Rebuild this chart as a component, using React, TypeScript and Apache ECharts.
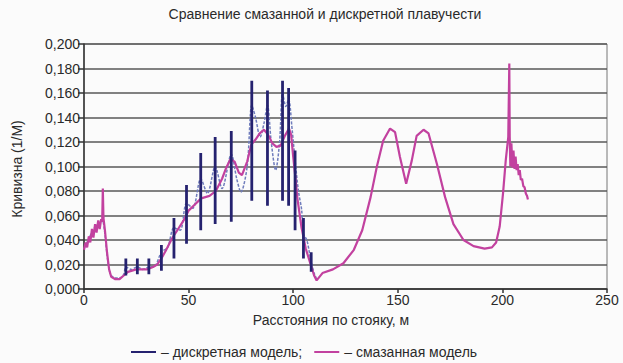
import React, { useEffect, useRef } from "react";
import * as echarts from "echarts";

const titleText = "Сравнение смазанной и дискретной плавучести";
const xAxisName = "Расстояния по стояку, м";
const yAxisName = "Кривизна (1/М)";
const discreteName = "– дискретная модель;";
const smearedName = "– смазанная модель";

const xTicks = { min: 0, max: 250, interval: 50 };
const yTicks = { min: 0, max: 0.2, interval: 0.02 };

// Smeared model (pink)
const smearedX = [
  0, 0.8, 1.5, 2.3, 3.0, 3.8, 4.5, 5.3, 6.0, 6.8, 7.5, 8.2, 8.7, 9.0, 9.3, 10, 11, 12, 13, 15, 17, 19, 21, 25, 30, 33,
  35, 37, 39, 42, 45, 48, 50, 53, 56, 60, 63, 66, 68, 70, 72, 74, 75.5, 78, 80, 82, 84, 86, 88, 90, 92, 94, 96, 98, 99,
  100, 101, 102, 104, 106, 108, 110, 111.2, 114, 119, 124, 129, 133, 137, 140, 143, 146.3, 148.7, 151, 154, 156.7,
  159, 162.3, 164.7, 168.7, 172.6, 176.6, 181.4, 186.2, 191.5, 195, 197, 198.7, 200.3, 201.6, 202.8, 203.3, 203.5,
  203.8, 204.3, 204.8, 205.3, 205.8, 206.3, 206.8, 207.3, 207.8, 208.3, 208.8, 209.4, 210.0, 210.6, 211.2, 211.8, 212.2,
];
const smearedY = [
  0.032, 0.038, 0.034, 0.043, 0.038, 0.049, 0.042, 0.053, 0.046, 0.056, 0.049, 0.057, 0.055, 0.082, 0.058, 0.048, 0.03,
  0.016, 0.01, 0.008, 0.008, 0.011, 0.014, 0.016, 0.016, 0.018, 0.02, 0.025, 0.031, 0.041, 0.049, 0.057, 0.064, 0.069,
  0.074, 0.076, 0.08, 0.09, 0.099, 0.106, 0.104, 0.095, 0.093, 0.104, 0.118, 0.122, 0.127, 0.13, 0.126, 0.119, 0.116,
  0.117, 0.125, 0.131, 0.126, 0.108, 0.092, 0.074, 0.05, 0.033, 0.022, 0.011, 0.007, 0.013, 0.016, 0.021, 0.032, 0.048,
  0.075, 0.1, 0.121, 0.131, 0.128, 0.108, 0.086, 0.105, 0.125, 0.13, 0.127, 0.102, 0.075, 0.053, 0.04, 0.035, 0.033,
  0.034, 0.038, 0.051, 0.078, 0.105, 0.124, 0.184, 0.124, 0.1, 0.119, 0.099, 0.113, 0.098, 0.108, 0.097, 0.102, 0.093,
  0.097, 0.089, 0.09, 0.084, 0.083, 0.078, 0.076, 0.073,
];

// Discrete model: smooth curve between modules (light)
const discreteCurveX = [
  0, 2, 4, 6, 8, 8.8, 10, 11, 12, 13, 15, 17, 19, 20, 22.5, 25.5, 28, 31, 34, 37, 40, 43, 46, 49, 52, 55.8, 59, 62.7,
  66, 70.4, 73, 75, 78, 80.2, 82, 84.2, 86, 87.7, 89.5, 91.6, 93.5, 94.9, 96.5, 97.8, 99.5, 100.9, 102.5, 104, 104.9,
  106.5, 107.5, 108.6, 110, 111,
];
const discreteCurveY = [
  0.033, 0.04, 0.047, 0.052, 0.055, 0.056, 0.045, 0.028, 0.016, 0.011, 0.009, 0.009, 0.012, 0.018, 0.016, 0.018, 0.016,
  0.018, 0.019, 0.03, 0.034, 0.05, 0.048, 0.07, 0.066, 0.09, 0.078, 0.1, 0.082, 0.11, 0.09, 0.079, 0.1, 0.15, 0.14,
  0.124, 0.135, 0.15, 0.12, 0.097, 0.12, 0.16, 0.149, 0.155, 0.13, 0.105, 0.08, 0.065, 0.045, 0.04, 0.032, 0.022, 0.013,
  0.009,
];

// Discrete model: spikes at buoyancy modules
const spikeX = [20, 25.5, 31, 37, 43, 49, 55.8, 62.7, 70.4, 80.2, 87.7, 94.9, 97.8, 100.9, 104.9, 108.6];
const spikeTop = [0.025, 0.025, 0.025, 0.036, 0.058, 0.085, 0.111, 0.124, 0.129, 0.17, 0.162, 0.17, 0.164, 0.113, 0.058, 0.03];
const spikeBottom = [0.011, 0.012, 0.012, 0.015, 0.025, 0.037, 0.048, 0.053, 0.055, 0.072, 0.068, 0.072, 0.068, 0.048, 0.025, 0.014];

const PINK = "#c2419f";
const NAVY = "#25226f";
const LIGHT = "#6f7cbc";

const fmt = (v: number) => v.toFixed(3).replace(".", ",");

export default function App() {
  const ref = useRef<HTMLDivElement>(null);
  useEffect(() => {
    if (!ref.current) return;
    const chart = echarts.init(ref.current, undefined, { renderer: "svg" });
    const smeared = smearedX.map((x, i) => [x, smearedY[i]]);
    const curve = discreteCurveX.map((x, i) => [x, discreteCurveY[i]]);
    const spikes: any[] = [];
    spikeX.forEach((x, i) => {
      spikes.push([x, spikeTop[i]]);
      spikes.push([x, spikeBottom[i]]);
      spikes.push([x, "-"]);
    });
    const font = "Liberation Sans, Arial, sans-serif";
    chart.setOption({
      animation: false,
      backgroundColor: "#fbfbfb",
      textStyle: { fontFamily: font },
      grid: {
        left: 84,
        right: 16,
        top: 44,
        bottom: 74,
        show: true,
        borderColor: "#777",
        borderWidth: 1,
        backgroundColor: "transparent",
      },
      xAxis: {
        type: "value",
        min: xTicks.min,
        max: xTicks.max,
        interval: xTicks.interval,
        axisLine: { show: true, onZero: false, lineStyle: { color: "#333", width: 1.5 } },
        axisTick: { show: true, length: 4, lineStyle: { color: "#333", width: 1.5 } },
        splitLine: { show: false },
        axisLabel: { color: "#2a2a2a", fontSize: 14, fontFamily: font, margin: 4 },
      },
      yAxis: {
        type: "value",
        min: yTicks.min,
        max: yTicks.max,
        interval: yTicks.interval,
        axisLine: { show: true, lineStyle: { color: "#333", width: 1.5 } },
        axisTick: { show: true, length: 6, lineStyle: { color: "#333", width: 1.5 } },
        splitLine: { show: true, lineStyle: { color: "#585858", width: 1.6 } },
        axisLabel: { color: "#2a2a2a", fontSize: 14, fontFamily: font, margin: 4, formatter: fmt },
      },
      legend: {
        left: 126,
        top: 340,
        itemWidth: 25,
        itemHeight: 2,
        itemGap: 12,
        icon: "rect",
        textStyle: { color: "#2a2a2a", fontSize: 14, fontFamily: font },
        data: [
          { name: discreteName, itemStyle: { color: NAVY } },
          { name: smearedName, itemStyle: { color: PINK } },
        ],
      },
      graphic: [
        {
          type: "text",
          x: 325,
          y: 14,
          style: { text: titleText, fill: "#2a2a2a", font: `14px ${font}`, textAlign: "center", textVerticalAlign: "middle" },
        },
        {
          type: "text",
          x: 331,
          y: 320,
          style: { text: xAxisName, fill: "#2a2a2a", font: `14px ${font}`, textAlign: "center", textVerticalAlign: "middle" },
        },
        {
          type: "text",
          x: 17,
          y: 169,
          rotation: Math.PI / 2,
          style: { text: yAxisName, fill: "#2a2a2a", font: `14px ${font}`, textAlign: "center", textVerticalAlign: "middle" },
        },
      ],
      series: [
        {
          name: "curve",
          type: "line",
          data: curve,
          showSymbol: false,
          smooth: 0.3,
          lineStyle: { color: LIGHT, width: 1.5, type: [3, 1.5] },
          itemStyle: { color: LIGHT },
          z: 2,
        },
        {
          name: smearedName,
          type: "line",
          data: smeared,
          showSymbol: false,
          lineStyle: { color: PINK, width: 2.2 },
          itemStyle: { color: PINK },
          z: 3,
        },
        {
          name: discreteName,
          type: "line",
          data: spikes,
          showSymbol: false,
          connectNulls: false,
          lineStyle: { color: NAVY, width: 2.8 },
          itemStyle: { color: NAVY },
          z: 4,
        },
      ],
    });
    return () => chart.dispose();
  }, []);
  return <div ref={ref} style={{ position: "fixed", left: 0, top: 0, width: 623, height: 363 }} />;
}
